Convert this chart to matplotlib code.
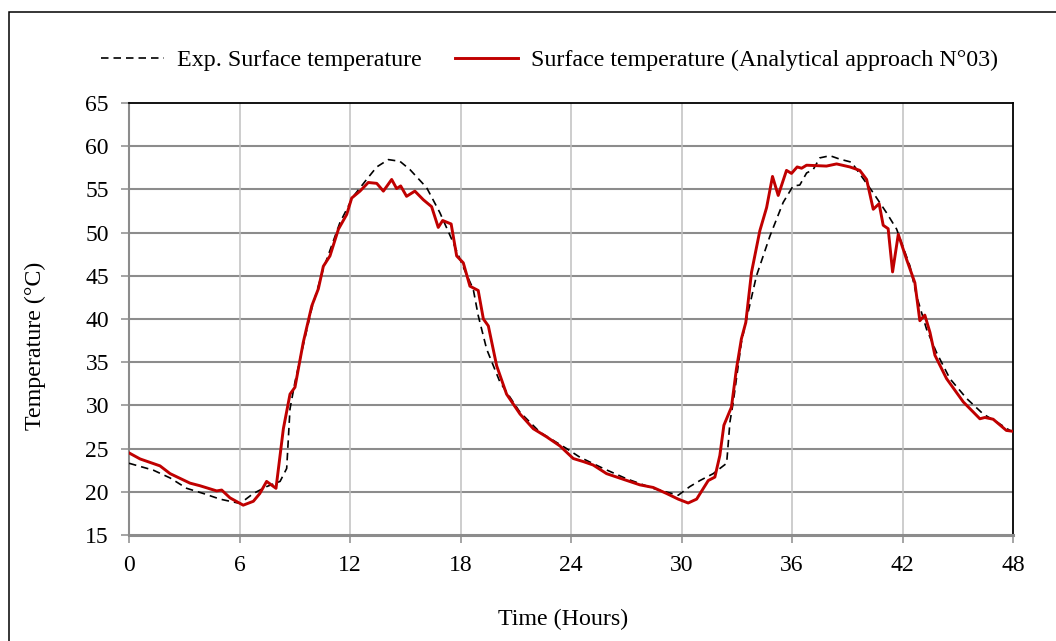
import numpy as np
import matplotlib
matplotlib.use("Agg")
import matplotlib.pyplot as plt
from matplotlib.patches import Rectangle

plt.rcParams['font.family'] = ['Liberation Serif', 'DejaVu Serif']

# Experimental surface temperature (dashed)
exp_hours = [0, 1.32, 2.23, 3.13, 4.04, 4.94, 6.03, 6.75, 7.47, 8.2, 8.56, 8.74, 9.01, 9.37,
             9.92, 10.55, 11.45, 12.18, 12.9, 13.45, 14.08, 14.71, 15.25, 16.16, 16.88, 17.6,
             18.15, 18.69, 18.96, 19.42, 20.14, 21.23, 22.31, 23.76, 24.48, 25.75, 27.02, 28.46,
             29.82, 30.45, 31.0, 31.72, 32.45, 32.63, 32.81, 33.25, 33.53, 34.07, 34.8, 35.52,
             36.06, 36.42, 36.79, 37.15, 37.51, 38.06, 38.6, 39.23, 39.68, 40.41, 41.13, 41.68,
             42.4, 42.76, 43.3, 43.84, 44.57, 45.48, 46.38, 47.1, 47.9]
exp_temp = [23.3, 22.5, 21.6, 20.4, 19.8, 19.15, 18.65, 19.8, 20.6, 21.2, 22.7, 29.6, 32.7, 36.15,
            41.2, 45.8, 51.15, 54.2, 56.15, 57.6, 58.45, 58.25, 57.3, 55.2, 52.3, 48.85,
            46.0, 43.45, 40.4, 36.5, 32.7, 29.2, 26.9, 25.0, 24.0, 22.7, 21.5, 20.4,
            19.6, 20.6, 21.3, 22.1, 23.3, 28.1, 30.4, 37.3, 40.0, 45.0, 49.6, 53.5,
            55.4, 55.5, 56.9, 57.3, 58.65, 58.9, 58.5, 58.15, 56.8, 54.6, 52.3, 50.4,
            46.15, 42.7, 38.85, 36.15, 33.1, 30.8, 29.0, 28.1, 27.0]

# Analytical approach N°03 (red)
ana_hours = [0, 0.6, 1.14, 1.68, 2.23, 3.31, 3.85, 4.76, 5.03, 5.48, 6.2, 6.75, 7.1, 7.47, 7.98,
             8.38, 8.74, 9.01, 9.46, 9.92, 10.28, 10.55, 10.91, 11.37, 11.82, 12.09, 12.54,
             12.99, 13.45, 13.81, 14.26, 14.53, 14.75, 15.07, 15.52, 15.98, 16.43, 16.79, 17.03,
             17.49, 17.79, 18.15, 18.51, 18.96, 19.24, 19.51, 19.96, 20.5, 21.23, 21.95, 22.68,
             23.4, 24.12, 24.66, 25.2, 25.93, 26.83, 27.74, 28.46, 29.19, 29.82, 30.36, 30.82,
             31.45, 31.81, 32.08, 32.3, 32.71, 32.98, 33.25, 33.49, 33.8, 34.25, 34.62, 34.94,
             35.25, 35.7, 35.97, 36.28, 36.52, 36.79, 37.87, 38.42, 39.14, 39.68, 40.05, 40.41,
             40.73, 40.95, 41.22, 41.46, 41.77, 42.22, 42.67, 42.94, 43.21, 43.49, 43.76, 44.39,
             45.3, 46.2, 46.47, 46.92, 47.64, 48]
ana_temp = [24.5, 23.8, 23.4, 23.0, 22.1, 21.0, 20.7, 20.1, 20.2, 19.3, 18.45, 18.9, 19.8, 21.2, 20.4,
            27.3, 31.3, 32.1, 37.3, 41.5, 43.5, 46.1, 47.3, 50.4, 52.1, 54.0, 54.8,
            55.8, 55.7, 54.8, 56.15, 55.1, 55.4, 54.2, 54.8, 53.8, 53.0, 50.6, 51.4,
            51.0, 47.3, 46.5, 43.8, 43.3, 40.0, 39.2, 34.6, 31.3, 29.0, 27.3, 26.35,
            25.3, 23.85, 23.5, 23.1, 22.1, 21.45, 20.8, 20.5, 19.8, 19.15, 18.7, 19.15,
            21.3, 21.7, 24.2, 27.7, 29.8, 34.2, 37.7, 39.6, 45.4, 50.2, 52.9, 56.5,
            54.3, 57.2, 56.85, 57.6, 57.45, 57.8, 57.7, 57.95, 57.6, 57.2, 56.15, 52.7,
            53.35, 50.85, 50.45, 45.45, 49.8, 46.9, 44.2, 39.8, 40.45, 38.45, 35.8, 33.1,
            30.4, 28.45, 28.6, 28.4, 27.1, 27.0]

x_ticks = [0, 6, 12, 18, 24, 30, 36, 42, 48]
y_ticks = [15, 20, 25, 30, 35, 40, 45, 50, 55, 60, 65]

fig = plt.figure(figsize=(10.56, 6.41), dpi=100)
ax = fig.add_axes([0.1222, 0.1654, 0.8371, 0.6739])

# outer chart frame (cut off at right and bottom)
fig.patches.append(Rectangle((9 / 1056, -0.05), 1.1, 1 - 12 / 641 + 0.05,
                             transform=fig.transFigure, fill=False,
                             edgecolor='black', linewidth=1.1))

for y in y_ticks[1:-1]:
    ax.axhline(y, color='#8c8c8c', linewidth=1.5, zorder=1)
for x in x_ticks[1:-1]:
    ax.axvline(x, color='#c0c0c0', linewidth=1.1, zorder=1)

ax.plot(exp_hours, exp_temp, color='black', linewidth=1.2, dashes=[4.5, 3.0],
        label='Exp. Surface temperature', zorder=3)
ax.plot(ana_hours, ana_temp, color='#c00000', linewidth=2.1,
        label='Surface temperature (Analytical approach N°03)', zorder=4)

ax.set_xlim(0, 48)
ax.set_ylim(15, 65)
ax.set_xticks(x_ticks)
ax.set_yticks(y_ticks)
ax.tick_params(axis='both', direction='out', length=5.5, width=1.1, color='#8c8c8c',
               labelsize=17, pad=9)

ax.spines['left'].set_color('#8c8c8c')
ax.spines['bottom'].set_color('#8c8c8c')
ax.spines['bottom'].set_linewidth(2.2)
ax.spines['left'].set_linewidth(1.5)
ax.spines['top'].set_color('black')
ax.spines['right'].set_color('black')
ax.spines['top'].set_linewidth(1.3)
ax.spines['right'].set_linewidth(1.3)

fig.text(563 / 1056, 1 - 619 / 641, 'Time (Hours)', ha='center', va='center', fontsize=17.3)
fig.text(35 / 1056, 1 - 346 / 641, 'Temperature (°C)', ha='center', va='center',
         rotation=90, fontsize=17.3)

fig.legend(loc='center', bbox_to_anchor=(0.5205, 1 - 60 / 641), ncol=2, frameon=False,
           fontsize=17.3, handlelength=2.6, handletextpad=0.55, columnspacing=1.4)

fig.savefig('out.png', dpi=100)
